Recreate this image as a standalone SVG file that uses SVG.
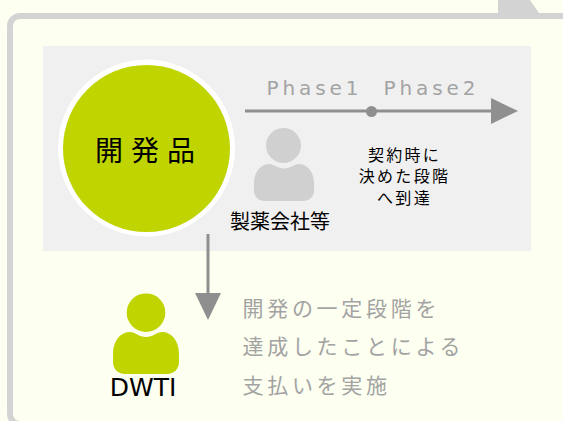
<svg xmlns="http://www.w3.org/2000/svg" width="563" height="421" viewBox="0 0 563 421">
<style>
text{font-family:"DejaVu Sans","Noto Sans CJK JP",sans-serif}
.blk{fill:#000}
.gry{fill:#a3a3a3}
.ln{stroke:#8f8f8f;fill:none}
.hd{fill:#8f8f8f}
</style>
<defs>
<path id="body" d="M0 22C0 8 8 0 17 0C22 0 26 5 33 5C40 5 44 0 49 0C58 0 66 8 66 22V30C66 37 61 42 54 42H12C5 42 0 37 0 30Z"/>
</defs>
<rect width="563" height="421" fill="#fdfff0"/>
<path d="M498 13V0H530L539 13Z" fill="#d3d3d3"/>
<rect x="10" y="16" width="620" height="408" rx="10" fill="#fdfff0" stroke="#d3d3d3" stroke-width="6"/>
<rect x="43" y="46" width="488" height="205" fill="#f0f0f0"/>
<g id="node-product">
<circle cx="146.5" cy="148" r="88.5" fill="#fff"/>
<circle cx="146.5" cy="148.5" r="83.5" fill="#c0d400"/>
<text class="blk" x="95" y="161" font-size="28" letter-spacing="8">開発品</text>
</g>
<g id="node-pharma">
<circle cx="283.5" cy="145.5" r="17.5" fill="#d0d0d0"/>
<use href="#body" transform="translate(254 164) scale(.91 .88)" fill="#d0d0d0"/>
<text class="blk" x="280" y="229" font-size="20" text-anchor="middle">製薬会社等</text>
</g>
<g id="node-dwti">
<circle cx="146" cy="312.7" r="19.3" fill="#c0d400"/>
<use href="#body" x="113" y="332" fill="#c0d400"/>
<text class="blk" x="143" y="396" font-size="25" text-anchor="middle">DWTI</text>
</g>
<g id="connectors">
<path class="ln" stroke-width="3" d="M245 111H492"/>
<path class="hd" d="M491 98L518 111L491 124Z"/>
<circle class="hd" cx="371.5" cy="111.5" r="5.5"/>
<path class="ln" stroke-width="3" d="M208 234V294"/>
<path class="hd" d="M195 293H221L208 320Z"/>
</g>
<g id="labels">
<text class="gry" x="266.500" y="95" font-size="20" letter-spacing="3.900">Phase1</text>
<text class="gry" x="383.500" y="95" font-size="20" letter-spacing="3.900">Phase2</text>
<g class="blk" font-size="16" text-anchor="middle" letter-spacing="2.300">
<text x="404.500" y="161">契約時に</text>
<text x="404.500" y="182">決めた段階</text>
<text x="404.500" y="204">へ到達</text>
</g>
<g class="gry" font-size="21" letter-spacing="3.700">
<text x="242.500" y="316">開発の一定段階を</text>
<text x="242.500" y="354">達成したことによる</text>
<text x="242.500" y="393">支払いを実施</text>
</g>
</g>
</svg>
